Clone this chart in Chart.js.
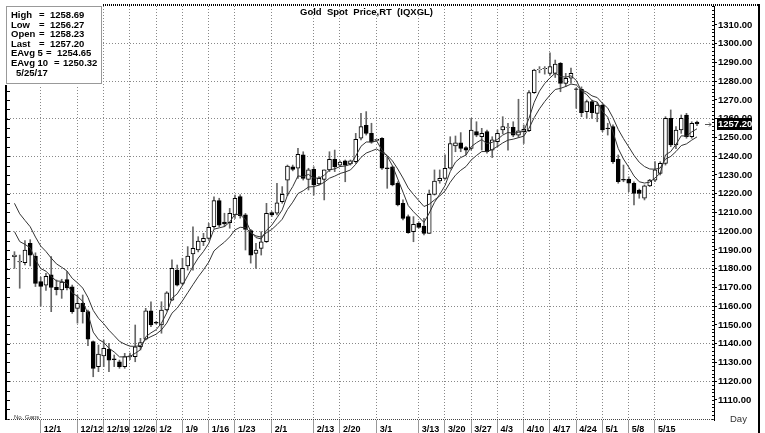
<!DOCTYPE html>
<html>
<head>
<meta charset="utf-8">
<script src="https://cdn.jsdelivr.net/npm/chart.js@4.4.0/dist/chart.umd.min.js"></script>
<style>
  html, body { margin: 0; padding: 0; background: #fff; }
  #wrap { width: 765px; height: 433px; }
</style>
</head>
<body>
<div id="wrap"><canvas id="chart" width="765" height="433"></canvas></div>
<script>
// Trading days shown (11/24/16 - 5/25/17)
const dates = [
  '11/24', '11/25', '11/28', '11/29', '11/30',
  '12/1', '12/2', '12/5', '12/6', '12/7', '12/8', '12/9',
  '12/12', '12/13', '12/14', '12/15', '12/16',
  '12/19', '12/20', '12/21', '12/22', '12/23',
  '12/26', '12/27', '12/28', '12/29', '12/30',
  '1/2', '1/3', '1/4', '1/5', '1/6',
  '1/9', '1/10', '1/11', '1/12', '1/13',
  '1/16', '1/17', '1/18', '1/19', '1/20',
  '1/23', '1/24', '1/25', '1/26', '1/27',
  '1/30', '1/31', '2/1', '2/2', '2/3',
  '2/6', '2/7', '2/8', '2/9', '2/10',
  '2/13', '2/14', '2/15', '2/16', '2/17',
  '2/20', '2/21', '2/22', '2/23', '2/24',
  '2/27', '2/28', '3/1', '3/2', '3/3',
  '3/6', '3/7', '3/8', '3/9', '3/10',
  '3/13', '3/14', '3/15', '3/16', '3/17',
  '3/20', '3/21', '3/22', '3/23', '3/24',
  '3/27', '3/28', '3/29', '3/30', '3/31',
  '4/3', '4/4', '4/5', '4/6', '4/7',
  '4/10', '4/11', '4/12', '4/13', '4/14',
  '4/17', '4/18', '4/19', '4/20', '4/21',
  '4/24', '4/25', '4/26', '4/27', '4/28',
  '5/1', '5/2', '5/3', '5/4', '5/5',
  '5/8', '5/9', '5/10', '5/11', '5/12',
  '5/15', '5/16', '5/17', '5/18', '5/19',
  '5/22', '5/23', '5/24', '5/25'
];

// OHLC
const opens = [
  1186.4, 1183.6, 1183.2, 1193.6, 1186.8, 1173.1, 1171.3, 1176.7, 1170.1, 1168.7,
  1174.2, 1170.4, 1158.9, 1161.6, 1157.1, 1141.1, 1127.8, 1133.5, 1137.0, 1131.9,
  1130.4, 1127.8, 1133.0, 1133.1, 1138.4, 1142.4, 1157.6, 1151.4, 1150.0, 1158.0,
  1163.3, 1179.3, 1172.2, 1181.5, 1187.9, 1190.0, 1194.4, 1196.2, 1202.4, 1216.3,
  1204.9, 1204.6, 1208.7, 1218.5, 1208.7, 1200.3, 1188.2, 1190.9, 1194.4, 1209.9,
  1209.6, 1215.8, 1227.3, 1234.4, 1233.6, 1240.7, 1227.7, 1233.0, 1225.2, 1227.7,
  1232.7, 1238.4, 1235.2, 1237.5, 1235.9, 1237.1, 1249.6, 1256.5, 1252.2, 1248.5,
  1249.6, 1233.8, 1234.4, 1225.6, 1214.9, 1207.8, 1199.8, 1204.2, 1202.8, 1198.9,
  1219.7, 1226.8, 1228.2, 1233.6, 1245.5, 1247.2, 1244.6, 1244.2, 1253.1, 1250.4,
  1253.1, 1243.3, 1247.8, 1254.0, 1255.4, 1255.4, 1251.3, 1253.1, 1253.6, 1273.9,
  1286.2, 1286.7, 1284.2, 1284.2, 1289.6, 1278.9, 1281.6, 1276.0, 1275.7, 1263.8,
  1269.1, 1262.9, 1267.3, 1255.0, 1255.8, 1238.4, 1227.7, 1227.7, 1225.6, 1222.0,
  1217.6, 1224.2, 1227.3, 1230.9, 1236.2, 1260.2, 1246.0, 1254.0, 1262.0, 1250.4,
  1258.23
];
const highs = [
  1189.1, 1187.3, 1195.0, 1195.5, 1188.5, 1175.5, 1177.5, 1186.5, 1174.0, 1174.4,
  1178.5, 1171.3, 1166.0, 1166.0, 1158.0, 1141.5, 1139.3, 1142.0, 1140.2, 1134.0,
  1131.3, 1134.9, 1135.0, 1150.0, 1142.9, 1158.9, 1162.4, 1152.0, 1162.4, 1167.8,
  1184.7, 1182.0, 1185.6, 1191.8, 1202.4, 1197.1, 1198.9, 1204.2, 1218.4, 1217.6,
  1209.6, 1212.2, 1219.3, 1219.5, 1209.5, 1201.0, 1193.5, 1199.8, 1214.9, 1210.5,
  1225.6, 1223.8, 1235.3, 1235.3, 1244.2, 1242.4, 1233.6, 1234.4, 1229.1, 1232.7,
  1242.4, 1243.3, 1237.5, 1238.0, 1238.0, 1252.2, 1262.9, 1263.8, 1257.6, 1249.2,
  1249.9, 1239.8, 1234.8, 1226.4, 1216.7, 1208.7, 1207.8, 1205.1, 1206.9, 1222.0,
  1232.7, 1232.7, 1240.7, 1250.4, 1250.8, 1252.6, 1245.1, 1260.2, 1258.4, 1254.9,
  1254.0, 1250.4, 1254.0, 1261.1, 1257.6, 1258.4, 1270.4, 1256.7, 1275.0, 1286.4,
  1287.8, 1287.8, 1295.2, 1291.3, 1290.0, 1284.2, 1287.0, 1276.5, 1277.0, 1270.0,
  1270.0, 1268.8, 1268.0, 1257.6, 1256.7, 1240.7, 1235.3, 1229.0, 1226.4, 1222.5,
  1224.7, 1227.7, 1237.1, 1237.1, 1261.1, 1264.7, 1255.8, 1262.0, 1262.9, 1258.4,
  1258.69
];
const lows = [
  1180.2, 1169.6, 1182.0, 1181.5, 1170.5, 1160.0, 1168.5, 1157.1, 1166.0, 1164.2,
  1168.7, 1156.2, 1151.0, 1151.0, 1139.0, 1122.4, 1125.1, 1127.8, 1125.1, 1127.8,
  1126.9, 1126.9, 1131.5, 1130.4, 1136.7, 1142.0, 1149.1, 1150.5, 1145.6, 1157.5,
  1163.0, 1170.8, 1171.3, 1179.3, 1179.3, 1189.0, 1192.3, 1195.6, 1201.6, 1202.4,
  1202.4, 1201.6, 1206.9, 1207.0, 1190.0, 1183.0, 1180.2, 1187.3, 1194.0, 1207.8,
  1208.7, 1214.9, 1219.0, 1232.2, 1228.2, 1227.3, 1222.0, 1219.3, 1224.7, 1216.7,
  1231.8, 1231.8, 1234.4, 1226.4, 1235.3, 1236.2, 1248.7, 1251.3, 1246.9, 1248.3,
  1233.0, 1222.9, 1224.2, 1213.5, 1206.0, 1198.9, 1194.4, 1201.6, 1198.0, 1198.9,
  1219.3, 1225.6, 1227.7, 1233.2, 1242.4, 1242.4, 1240.7, 1243.3, 1250.4, 1243.3,
  1241.6, 1239.3, 1245.1, 1252.0, 1243.3, 1250.4, 1250.0, 1246.8, 1253.1, 1273.5,
  1284.5, 1283.8, 1283.3, 1282.0, 1274.4, 1277.1, 1279.0, 1265.6, 1261.1, 1260.2,
  1260.2, 1258.4, 1253.1, 1251.3, 1236.2, 1225.6, 1226.4, 1221.1, 1214.0, 1217.6,
  1216.7, 1223.8, 1226.4, 1230.0, 1235.3, 1245.1, 1244.0, 1252.2, 1249.6, 1249.6,
  1256.27
];
const closes = [
  1187.3, 1183.9, 1190.0, 1187.3, 1172.2, 1170.6, 1175.9, 1170.0, 1168.8, 1172.9,
  1169.8, 1157.1, 1161.6, 1157.1, 1142.4, 1126.9, 1134.5, 1137.6, 1131.3, 1131.5,
  1127.8, 1133.1, 1133.6, 1138.4, 1140.6, 1157.6, 1150.0, 1151.0, 1158.0, 1167.2,
  1180.2, 1171.3, 1180.2, 1186.8, 1190.9, 1194.8, 1196.2, 1202.1, 1216.3, 1203.3,
  1203.9, 1209.6, 1217.6, 1208.3, 1201.0, 1187.3, 1190.0, 1194.4, 1209.6, 1208.7,
  1215.2, 1219.7, 1234.8, 1233.0, 1241.0, 1228.2, 1232.7, 1224.7, 1228.2, 1232.7,
  1238.4, 1234.4, 1236.9, 1235.3, 1237.5, 1249.0, 1255.8, 1252.2, 1247.5, 1249.0,
  1233.6, 1233.4, 1224.7, 1214.0, 1206.9, 1199.2, 1203.7, 1202.1, 1198.9, 1219.7,
  1226.8, 1228.2, 1233.6, 1246.8, 1247.2, 1244.2, 1243.3, 1254.0, 1251.3, 1252.2,
  1242.4, 1248.7, 1252.2, 1255.8, 1255.6, 1251.3, 1253.6, 1254.4, 1273.9, 1286.0,
  1286.4, 1286.9, 1287.8, 1289.2, 1278.9, 1281.6, 1284.2, 1275.6, 1263.3, 1269.1,
  1263.3, 1267.3, 1254.0, 1254.7, 1237.1, 1226.4, 1227.3, 1225.6, 1220.2, 1220.2,
  1224.2, 1227.3, 1232.7, 1236.2, 1260.2, 1246.0, 1254.0, 1260.2, 1250.4, 1257.6,
  1257.20
];

// Moving average lines as drawn
const ema5 = [
  1199.8, 1194.5, 1193.0, 1191.1, 1184.8, 1180.1, 1178.7, 1175.8, 1173.5, 1173.3,
  1172.1, 1167.1, 1165.3, 1162.6, 1155.9, 1146.2, 1142.3, 1140.7, 1137.6, 1135.6,
  1133.0, 1133.0, 1133.2, 1134.9, 1136.8, 1143.7, 1145.8, 1147.5, 1151.0, 1156.4,
  1164.3, 1166.6, 1171.1, 1176.3, 1181.2, 1185.7, 1189.2, 1193.5, 1201.1, 1201.8,
  1202.5, 1204.9, 1209.1, 1208.8, 1206.2, 1199.9, 1196.6, 1195.9, 1200.5, 1203.2,
  1207.2, 1211.4, 1219.2, 1223.8, 1229.5, 1229.1, 1230.3, 1228.4, 1228.3, 1229.8,
  1232.7, 1233.3, 1234.5, 1234.8, 1235.7, 1240.1, 1245.3, 1247.6, 1247.6, 1248.1,
  1243.3, 1240.0, 1234.9, 1227.9, 1220.9, 1213.7, 1210.4, 1207.6, 1204.7, 1209.7,
  1215.4, 1219.7, 1224.3, 1231.8, 1236.9, 1239.3, 1240.6, 1245.1, 1247.2, 1248.9,
  1246.7, 1247.4, 1249.0, 1251.3, 1252.7, 1252.2, 1252.7, 1253.3, 1260.2, 1268.8,
  1274.7, 1278.8, 1281.8, 1284.3, 1282.5, 1282.2, 1282.9, 1280.5, 1274.8, 1272.9,
  1269.7, 1268.9, 1263.9, 1260.8, 1252.9, 1244.1, 1238.5, 1234.2, 1229.5, 1226.4,
  1225.7, 1226.2, 1228.4, 1231.0, 1240.7, 1242.5, 1246.3, 1250.9, 1250.7, 1253.0,
  1254.65
];
const ema10 = [
  1214.9, 1209.3, 1205.8, 1202.4, 1196.9, 1192.1, 1189.2, 1185.7, 1182.6, 1180.8,
  1178.8, 1174.9, 1172.5, 1169.7, 1164.7, 1157.8, 1153.6, 1150.7, 1147.2, 1144.3,
  1141.3, 1139.8, 1138.7, 1138.6, 1139.0, 1142.4, 1143.8, 1145.1, 1147.4, 1151.0,
  1156.3, 1159.0, 1162.9, 1167.2, 1171.5, 1175.7, 1179.4, 1183.5, 1189.5, 1192.0,
  1194.2, 1197.0, 1200.7, 1202.1, 1201.9, 1199.2, 1197.5, 1196.9, 1199.2, 1200.9,
  1203.5, 1206.4, 1211.6, 1215.5, 1220.1, 1221.6, 1223.6, 1223.8, 1224.6, 1226.1,
  1228.3, 1229.4, 1230.8, 1231.6, 1232.7, 1235.7, 1239.4, 1241.7, 1242.8, 1243.9,
  1242.0, 1240.4, 1237.5, 1233.2, 1228.4, 1223.1, 1219.6, 1216.4, 1213.2, 1214.4,
  1216.7, 1218.8, 1221.5, 1226.1, 1229.9, 1232.5, 1234.5, 1238.0, 1240.4, 1242.5,
  1242.5, 1243.6, 1245.2, 1247.1, 1248.6, 1249.1, 1249.9, 1250.7, 1254.9, 1260.6,
  1265.3, 1269.2, 1272.6, 1275.6, 1276.2, 1277.2, 1278.5, 1278.0, 1275.3, 1274.2,
  1272.2, 1271.3, 1268.2, 1265.7, 1260.5, 1254.3, 1249.4, 1245.0, 1240.5, 1236.8,
  1234.5, 1233.2, 1233.1, 1233.7, 1238.5, 1239.9, 1242.5, 1245.7, 1246.6, 1248.6,
  1250.32
];

// Axis labels
const dateTicks = ['12/1', '12/12', '12/19', '12/26', '1/2', '1/9', '1/16', '1/23', '2/1',
  '2/13', '2/20', '3/1', '3/13', '3/20', '3/27', '4/3', '4/10', '4/17', '4/24',
  '5/1', '5/8', '5/15'];
const priceTicks = [1110, 1120, 1130, 1140, 1150, 1160, 1170, 1180, 1190, 1200, 1210,
  1220, 1230, 1240, 1250, 1260, 1270, 1280, 1290, 1300, 1310];

// Readout box
const infoLabels = ['High', 'Low', 'Open', 'Last'];
const infoValues = ['1258.69', '1256.27', '1258.23', '1257.20'];
const emaLabels = ['EAvg 5', 'EAvg 10'];
const emaValues = ['1254.65', '1250.32'];
const lastDate = '5/25/17';
const title = 'Gold  Spot  Price,RT  (IQXGL)';

const FONT = '"Liberation Sans", Arial, sans-serif';

// Frame, extra ticks, title, readout box, last price tag
const decorPlugin = {
  id: 'decor',
  afterDraw(chart) {
    const ctx = chart.ctx;
    const area = chart.chartArea;
    const y = chart.scales.y;
    ctx.save();

    // left border with small ticks
    ctx.strokeStyle = '#000';
    ctx.lineWidth = 2;
    ctx.beginPath();
    ctx.moveTo(6, 84);
    ctx.lineTo(6, area.bottom);
    ctx.stroke();
    ctx.lineWidth = 1;
    ctx.beginPath();
    for (let v = 1100; v <= 1320; v += 5) {
      const py = Math.round(y.getPixelForValue(v)) + 0.5;
      if (py < 86 || py > area.bottom) continue;
      ctx.moveTo(7, py);
      ctx.lineTo(10, py);
    }
    ctx.stroke();

    // minor ticks on the price axis
    ctx.beginPath();
    for (let v = 1100; v <= 1320; v += 2) {
      const py = Math.round(y.getPixelForValue(v)) + 0.5;
      if (py < area.top || py > area.bottom) continue;
      ctx.moveTo(area.right - 2, py);
      ctx.lineTo(area.right, py);
    }
    ctx.stroke();

    // top dotted frame line and right frame
    ctx.setLineDash([1, 1]);
    ctx.lineWidth = 2;
    ctx.beginPath();
    ctx.moveTo(103, 5);
    ctx.lineTo(759, 5);
    ctx.stroke();
    ctx.setLineDash([]);
    ctx.beginPath();
    ctx.moveTo(759, 4);
    ctx.lineTo(759, 433);
    ctx.stroke();

    // bottom dotted line
    ctx.setLineDash([1, 1]);
    ctx.lineWidth = 1;
    ctx.strokeStyle = '#444';
    ctx.beginPath();
    ctx.moveTo(area.left, area.bottom - 0.5);
    ctx.lineTo(area.right, area.bottom - 0.5);
    ctx.stroke();
    ctx.setLineDash([]);

    // title
    ctx.fillStyle = '#000';
    ctx.font = 'bold 9.5px ' + FONT;
    ctx.textBaseline = 'alphabetic';
    ctx.textAlign = 'left';
    ctx.fillText(title, 300, 15);

    // readout box
    ctx.fillStyle = '#fff';
    ctx.fillRect(0, 0, 103, 85);
    ctx.strokeStyle = '#999';
    ctx.strokeRect(6.5, 6.5, 95, 77);
    ctx.fillStyle = '#000';
    infoLabels.forEach((lab, i) => {
      const by = 18 + i * 9.6;
      ctx.fillText(lab, 11, by);
      ctx.fillText('=', 39, by);
      ctx.fillText(infoValues[i], 50, by);
    });
    ctx.fillText(emaLabels[0], 11, 56.4);
    ctx.fillText('=', 46, 56.4);
    ctx.fillText(emaValues[0], 57, 56.4);
    ctx.fillText(emaLabels[1], 11, 66);
    ctx.fillText('=', 54, 66);
    ctx.fillText(emaValues[1], 63, 66);
    ctx.fillText(lastDate, 16, 75.6);

    // last price tag and arrow
    const last = closes[closes.length - 1];
    const ly = Math.round(y.getPixelForValue(last));
    ctx.fillStyle = '#000';
    ctx.fillRect(717, ly - 6, 35, 12);
    ctx.fillStyle = '#fff';
    ctx.textBaseline = 'middle';
    ctx.fillText(last.toFixed(2), 718, ly + 0.5);
    ctx.strokeStyle = '#555';
    ctx.beginPath();
    ctx.moveTo(705, ly + 0.5);
    ctx.lineTo(711, ly + 0.5);
    ctx.moveTo(709, ly - 1.5);
    ctx.lineTo(711, ly + 0.5);
    ctx.lineTo(709, ly + 2.5);
    ctx.stroke();

    // footer texts
    ctx.textBaseline = 'alphabetic';
    ctx.fillStyle = '#333';
    ctx.font = '9.5px ' + FONT;
    ctx.fillText('Day', 730, 422);
    ctx.font = '6px ' + FONT;
    ctx.fillText('No. Gaps', 14, 419);
    ctx.restore();
  }
};

const chart = new Chart(document.getElementById('chart'), {
  type: 'bar',
  data: {
    datasets: [
      {
        type: 'line',
        label: 'EAvg 5',
        data: ema5.map((v, i) => ({ x: i, y: v })),
        borderColor: '#333',
        borderWidth: 1,
        pointRadius: 0,
        order: 0
      },
      {
        type: 'line',
        label: 'EAvg 10',
        data: ema10.map((v, i) => ({ x: i, y: v })),
        borderColor: '#333',
        borderWidth: 1,
        pointRadius: 0,
        order: 0
      },
      {
        label: 'Body',
        data: opens.map((o, i) => ({ x: i, y: [o, closes[i]] })),
        backgroundColor: c => closes[c.dataIndex] >= opens[c.dataIndex] ? '#fff' : '#000',
        borderColor: '#000',
        borderWidth: 1,
        borderSkipped: false,
        barThickness: 4,
        grouped: false,
        order: 1
      },
      {
        label: 'Range',
        data: lows.map((l, i) => ({ x: i, y: [l, highs[i]] })),
        backgroundColor: '#666',
        barThickness: 1,
        grouped: false,
        order: 2
      }
    ]
  },
  options: {
    responsive: false,
    animation: false,
    layout: { autoPadding: false, padding: { left: 7, top: 6, right: 0, bottom: 0 } },
    plugins: {
      legend: { display: false },
      tooltip: { enabled: false }
    },
    scales: {
      x: {
        type: 'linear',
        offset: false,
        bounds: 'data',
        min: -1.42,
        max: 133.24,
        afterBuildTicks: s => { s.ticks = dateTicks.map(d => ({ value: dates.indexOf(d) })); },
        afterFit: s => { s.height = 13; s.paddingLeft = 0; s.paddingRight = 0; },
        ticks: {
          callback: v => dates[v],
          align: 'start',
          labelOffset: 3,
          padding: -9,
          autoSkip: false,
          maxRotation: 0,
          color: '#000',
          font: { family: FONT, size: 9, weight: 'bold' }
        },
        grid: {
          offset: false,
          color: '#888',
          lineWidth: 1,
          tickColor: '#999',
          tickLength: 13,
          tickBorderDash: []
        },
        border: { display: false, dash: [1, 2] }
      },
      y: {
        type: 'linear',
        position: 'right',
        min: 1099.33,
        max: 1320.13,
        afterBuildTicks: s => { s.ticks = priceTicks.map(v => ({ value: v })); },
        afterFit: s => { s.width = 51; s.paddingTop = 0; s.paddingBottom = 0; },
        ticks: {
          callback: v => v.toFixed(2),
          padding: 1,
          color: '#000',
          font: { family: FONT, size: 9.5, weight: 'bold' }
        },
        grid: {
          color: c => (c.tick && c.tick.value % 20 === 0) ? '#888' : 'rgba(0,0,0,0)',
          tickColor: '#000',
          tickLength: 3
        },
        border: { color: '#000', width: 1, dash: [1, 2] }
      }
    }
  },
  plugins: [decorPlugin]
});
</script>
</body>
</html>
